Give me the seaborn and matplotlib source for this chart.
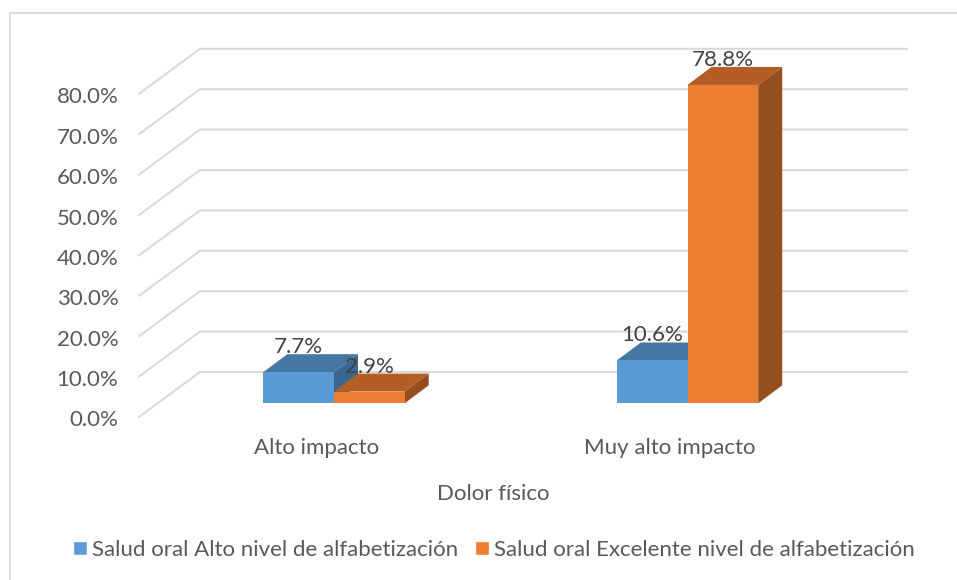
import matplotlib
matplotlib.use("Agg")
import matplotlib.pyplot as plt
import pandas as pd
import seaborn as sns
from matplotlib.lines import Line2D
from matplotlib.patches import Patch, Polygon
from matplotlib.transforms import ScaledTranslation

categories = ["Alto impacto", "Muy alto impacto"]
series_names = ["Salud oral Alto nivel de alfabetización", "Salud oral Excelente nivel de alfabetización"]
alto_values = [7.7, 10.6]
excelente_values = [2.9, 78.8]
tick_values = [0, 10, 20, 30, 40, 50, 60, 70, 80]
x_title = "Dolor físico"

FONT = "Lato"
FS = 16
TEXT = "#595959"
GRID = "#D9D9D9"
FRONT = ["#5B9BD5", "#ED7D31"]
TOP = ["#4577A3", "#B35E25"]
SIDE = ["#3A6690", "#954F1E"]

W, H = 957, 580
sns.set_theme(style="white")
plt.rcParams["font.family"] = [FONT, "DejaVu Sans"]
fig = plt.figure(figsize=(W / 100, H / 100), dpi=100)

# axes placed in pixels: x categories 353.5 px apart, 4.04 px per percentage point
PX_PER_CAT, PX_PER_UNIT = 353.5, 4.04
BASE_Y, PLANE_Y = 403.3, 417.0
left = 334 - PX_PER_CAT / 2
right = left + 2 * PX_PER_CAT
top_y = 30.0
ax = fig.add_axes([left / W, 1 - PLANE_Y / H, (right - left) / W, (PLANE_Y - top_y) / H])
ax.patch.set_alpha(0)
y_low = -(PLANE_Y - BASE_Y) / PX_PER_UNIT
y_high = (BASE_Y - top_y) / PX_PER_UNIT

df = pd.DataFrame({
    "cat": categories * 2,
    "serie": [series_names[0]] * 2 + [series_names[1]] * 2,
    "val": alto_values + excelente_values,
})
sns.barplot(data=df, x="cat", y="val", hue="serie", palette=FRONT, width=0.4, gap=0,
            dodge=True, saturation=1, legend=False, ax=ax, zorder=3, linewidth=0)
ax.set_xlim(-0.5, 1.5)
ax.set_ylim(y_low, y_high)

dx = 24 / PX_PER_CAT
dy = 18 / PX_PER_UNIT
wall_dy = (BASE_Y - 372) / PX_PER_UNIT
wall_x0 = (200 - left) / PX_PER_CAT - 0.5
wall_x1 = (907 - left) / PX_PER_CAT - 0.5
plane_x0 = (139 - left) / PX_PER_CAT - 0.5

# gridlines: receding part on the floor side, then along the back wall
for t in tick_values:
    ax.plot([plane_x0, wall_x0, wall_x1], [t + y_low, t + wall_dy, t + wall_dy],
            color=GRID, lw=1.5, clip_on=False, zorder=1, solid_joinstyle="miter")

# 3D faces of every bar, derived from the bars seaborn drew
order = [0, 2, 1, 3]
bars = list(ax.patches)
for n, i in enumerate(order):
    b = bars[i]
    s = 0 if i < 2 else 1
    x0, x1, h = b.get_x(), b.get_x() + b.get_width(), b.get_height()
    z = 3 + n
    b.set_zorder(z + 0.2)
    ax.add_patch(Polygon([(x0, h), (x1, h), (x1 + dx, h + dy), (x0 + dx, h + dy)],
                         closed=True, fc=TOP[s], ec="none", clip_on=False, zorder=z))
    ax.add_patch(Polygon([(x1, 0), (x1 + dx, dy), (x1 + dx, h + dy), (x1, h)],
                         closed=True, fc=SIDE[s], ec="none", clip_on=False, zorder=z + 0.1))
    b.set_clip_on(False)

# data labels
for i in order:
    b = bars[i]
    h = b.get_height()
    ax.annotate(f"{h:.1f}%", (b.get_x() + b.get_width() / 2, h), xytext=(0, 18),
                textcoords="offset points", ha="center", va="center",
                fontsize=FS, color="#404040", zorder=20, annotation_clip=False)

# axes furniture
sns.despine(ax=ax, left=True, bottom=True, top=True, right=True)
ax.set_yticks([t + y_low for t in tick_values])
ax.set_yticklabels([f"{t:.1f}%" for t in tick_values], fontsize=FS, color=TEXT)
ax.set_xticks([-0.05, 0.95])
ax.set_xticklabels(categories, fontsize=FS, color=TEXT)
ax.tick_params(axis="y", length=0, pad=28)
ax.tick_params(axis="x", length=0, pad=15)
ax.set_xlabel("")
ax.set_ylabel("")
shift = ScaledTranslation(0, -1.5 / 100, fig.dpi_scale_trans)
for lab in ax.get_yticklabels():
    lab.set_transform(lab.get_transform() + shift)
fig.text(493 / W, 1 - 494 / H, x_title, ha="center", va="center", fontsize=FS, color=TEXT)

handles = [Patch(facecolor=FRONT[0], label=series_names[0]), Patch(facecolor=FRONT[1], label=series_names[1])]
fig.legend(handles=handles, ncol=2, loc="center", bbox_to_anchor=(494 / W, 1 - 550 / H),
           frameon=False, fontsize=FS, labelcolor=TEXT, handlelength=0.63, handleheight=0.63,
           handletextpad=0.225, columnspacing=0.77, borderpad=0, borderaxespad=0)

# chart frame, cut off by the picture on the right and bottom
fig.add_artist(Line2D([9.5 / W, 9.5 / W, 1], [0, 1 - 13 / H, 1 - 13 / H], color=GRID, lw=1.3,
                      transform=fig.transFigure))

fig.savefig("out.png", dpi=100)
